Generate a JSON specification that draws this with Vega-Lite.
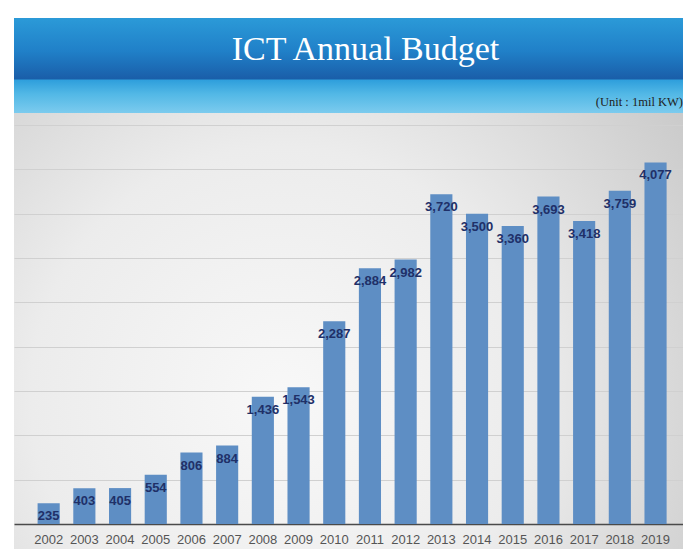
{
  "$schema": "https://vega.github.io/schema/vega-lite/v6.json",
  "background": "white",
  "padding": {"left": 14, "top": 18, "right": 0, "bottom": 6},
  "spacing": 0,
  "config": {"view": {"stroke": null}},
  "vconcat": [
    {
      "width": 669,
      "height": 95,
      "data": {"values": [{"title": "ICT Annual Budget"}]},
      "view": {
        "stroke": null,
        "fill": {
          "gradient": "linear", "x1": 0, "y1": 0, "x2": 0, "y2": 1,
          "stops": [
            {"offset": 0, "color": "#2b9ad8"},
            {"offset": 0.35, "color": "#2080c8"},
            {"offset": 0.64, "color": "#1a5ea9"},
            {"offset": 0.655, "color": "#2f9fdc"},
            {"offset": 0.8, "color": "#52b8e6"},
            {"offset": 1, "color": "#7ccbee"}
          ]
        }
      },
      "title": {
        "text": "(Unit : 1mil KW)",
        "orient": "bottom",
        "anchor": "end",
        "frame": "group",
        "offset": -17,
        "font": "Liberation Serif",
        "fontSize": 12.5,
        "fontWeight": "normal",
        "color": "#222222"
      },
      "mark": {"type": "text", "font": "Liberation Serif", "fontSize": 34, "color": "white", "dy": -16, "dx": 17},
      "encoding": {"text": {"field": "title", "type": "nominal"}}
    },
    {
      "width": 669,
      "height": 436,
      "view": {
        "stroke": null,
        "fill": {
          "gradient": "radial", "x1": 0.4, "y1": 0.6, "r1": 0, "x2": 0.4, "y2": 0.6, "r2": 0.75,
          "stops": [
            {"offset": 0, "color": "#f8f8f8"},
            {"offset": 0.5, "color": "#ececec"},
            {"offset": 1, "color": "#c9c9c9"}
          ]
        }
      },
      "data": {
        "values": [
          {"year": "2002", "budget": 235},
          {"year": "2003", "budget": 403},
          {"year": "2004", "budget": 405},
          {"year": "2005", "budget": 554},
          {"year": "2006", "budget": 806},
          {"year": "2007", "budget": 884},
          {"year": "2008", "budget": 1436},
          {"year": "2009", "budget": 1543},
          {"year": "2010", "budget": 2287},
          {"year": "2011", "budget": 2884},
          {"year": "2012", "budget": 2982},
          {"year": "2013", "budget": 3720},
          {"year": "2014", "budget": 3500},
          {"year": "2015", "budget": 3360},
          {"year": "2016", "budget": 3693},
          {"year": "2017", "budget": 3418},
          {"year": "2018", "budget": 3759},
          {"year": "2019", "budget": 4077}
        ]
      },
      "encoding": {
        "x": {
          "field": "year",
          "type": "ordinal",
          "scale": {"paddingInner": 0.38, "paddingOuter": 0.56, "align": 0.59},
          "axis": {
            "orient": "bottom",
            "offset": -25,
            "title": null,
            "ticks": false,
            "domainColor": "#4a4a4a",
            "domainWidth": 1.5,
            "labelColor": "#555555",
            "labelFontSize": 13,
            "labelFont": "Liberation Sans",
            "labelPadding": 9,
            "labelAngle": 0
          }
        }
      },
      "layer": [
        {
          "mark": {"type": "bar", "color": "#5e8ec4"},
          "encoding": {
            "y": {
              "field": "budget",
              "type": "quantitative",
              "scale": {"domain": [-282, 4635], "nice": false},
              "axis": {
                "values": [500, 1000, 1500, 2000, 2500, 3000, 3500, 4000, 4500],
                "grid": true,
                "labels": false,
                "ticks": false,
                "domain": false,
                "title": null,
                "gridColor": "#d0d0d0",
                "gridWidth": 1,
                "minExtent": 0,
                "maxExtent": 0
              }
            }
          }
        },
        {
          "mark": {
            "type": "text",
            "dy": 13,
            "baseline": "middle",
            "font": "Liberation Sans",
            "fontSize": 13,
            "fontWeight": "bold",
            "color": "#1f3068"
          },
          "encoding": {
            "y": {"field": "budget", "type": "quantitative"},
            "text": {"field": "budget", "type": "quantitative", "format": ","}
          }
        }
      ]
    }
  ]
}
